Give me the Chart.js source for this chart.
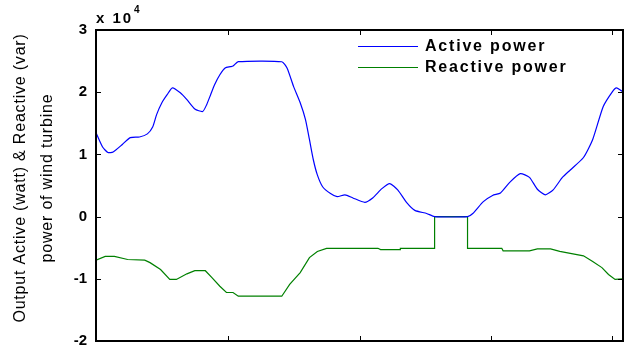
<!DOCTYPE html>
<html>
<head>
<meta charset="utf-8">
<script src="https://cdn.jsdelivr.net/npm/chart.js@4.4.1/dist/chart.umd.min.js"></script>
<style>
  html, body { margin: 0; padding: 0; background: #fff; }
  #wrap { width: 630px; height: 349px; }
</style>
</head>
<body>
<div id="wrap"><canvas id="power-chart" width="630" height="349"></canvas></div>
<script>
// values are in units of 1e4 (watt / var)
const activeTime = [0.00, 0.05, 0.09, 0.13, 0.20, 0.26, 0.33, 0.39, 0.43, 0.46, 0.50, 0.54, 0.58, 0.64, 0.69,
  0.75, 0.81, 0.84, 0.87, 0.90, 0.94, 0.98, 1.02, 1.04, 1.08, 1.41, 1.45, 1.50, 1.55, 1.59, 1.62, 1.65, 1.68,
  1.72, 1.78, 1.83, 1.89, 1.95, 2.04, 2.10, 2.17, 2.23, 2.29, 2.36, 2.42, 2.51, 2.57, 2.82, 2.86, 2.94, 3.01,
  3.07, 3.14, 3.22, 3.29, 3.35, 3.41, 3.47, 3.54, 3.60, 3.70, 3.77, 3.85, 3.92, 3.95, 3.99, 4.00];
const activePower = [1.35, 1.12, 1.03, 1.04, 1.16, 1.27, 1.28, 1.33, 1.44, 1.64, 1.83, 1.96, 2.07, 1.99, 1.88,
  1.73, 1.69, 1.80, 1.96, 2.12, 2.28, 2.39, 2.41, 2.42, 2.49, 2.49, 2.39, 2.09, 1.83, 1.56, 1.24, 0.91, 0.67,
  0.48, 0.37, 0.32, 0.35, 0.30, 0.23, 0.30, 0.45, 0.53, 0.43, 0.22, 0.10, 0.05, 0.00, 0.00, 0.05, 0.24, 0.34,
  0.38, 0.55, 0.69, 0.63, 0.44, 0.35, 0.43, 0.63, 0.75, 0.95, 1.24, 1.77, 2.01, 2.07, 2.02, 2.01];

const reactiveTime = [0.00, 0.07, 0.14, 0.24, 0.37, 0.41, 0.49, 0.56, 0.61, 0.69, 0.75, 0.83, 0.88, 0.94, 0.99,
  1.04, 1.08, 1.41, 1.47, 1.55, 1.62, 1.68, 1.75, 2.14, 2.16, 2.31, 2.31, 2.57, 2.57, 2.82, 2.82, 3.08, 3.09,
  3.29, 3.35, 3.45, 3.52, 3.62, 3.70, 3.77, 3.84, 3.89, 3.94, 4.00];
const reactivePower = [-0.70, -0.64, -0.64, -0.69, -0.70, -0.74, -0.85, -1.01, -1.01, -0.92, -0.87, -0.87, -0.98, -1.12, -1.22,
  -1.22, -1.28, -1.28, -1.09, -0.90, -0.66, -0.56, -0.51, -0.51, -0.53, -0.53, -0.51, -0.51, 0.00, 0.00, -0.51, -0.51, -0.55,
  -0.55, -0.52, -0.52, -0.56, -0.60, -0.63, -0.72, -0.82, -0.93, -1.01, -1.00];

const xTickValues = [1, 2, 3, 3.92];
const yTickValues = [3, 2, 1, 0, -1, -2];
const seriesNames = ["Active power", "Reactive power"];
const yTitleLines = ["Output Active (watt) & Reactive (var)", "power of wind turbine"];

const blue = "#0000ff";
const green = "#008000";
const fontFamily = "'Liberation Sans', Arial, sans-serif";

function toPoints(xs, ys) {
  return xs.map((x, i) => ({ x, y: ys[i] }));
}

const framePlugin = {
  id: "frame",
  afterDraw(chart) {
    const { ctx, chartArea: a, scales } = chart;
    ctx.save();
    ctx.strokeStyle = "#000";
    ctx.lineWidth = 1;
    // inward ticks
    ctx.beginPath();
    xTickValues.forEach((v) => {
      const px = Math.round(scales.x.getPixelForValue(v)) + 0.5;
      ctx.moveTo(px, a.bottom); ctx.lineTo(px, a.bottom - 5);
      ctx.moveTo(px, a.top); ctx.lineTo(px, a.top + 5);
    });
    yTickValues.forEach((v) => {
      const py = Math.round(scales.y.getPixelForValue(v)) + 0.5;
      ctx.moveTo(a.left, py); ctx.lineTo(a.left + 5, py);
      ctx.moveTo(a.right, py); ctx.lineTo(a.right - 5, py);
    });
    ctx.stroke();
    ctx.lineWidth = 2;
    ctx.strokeRect(a.left, a.top, a.right - a.left, a.bottom - a.top);

    ctx.fillStyle = "#000";
    ctx.textBaseline = "alphabetic";
    ctx.textAlign = "left";

    // exponent label
    if ("letterSpacing" in ctx) ctx.letterSpacing = "2px";
    ctx.font = "bold 15px " + fontFamily;
    ctx.fillText("x 10", 96, 23);
    if ("letterSpacing" in ctx) ctx.letterSpacing = "0px";
    ctx.font = "bold 10px " + fontFamily;
    ctx.fillText("4", 134, 13);

    // y axis title
    ctx.save();
    ctx.translate(0, 178);
    ctx.rotate(-Math.PI / 2);
    ctx.textAlign = "center";
    ctx.textBaseline = "middle";
    if ("letterSpacing" in ctx) ctx.letterSpacing = "0.8px";
    ctx.font = "16px " + fontFamily;
    ctx.fillText(yTitleLines[0], 0, 21);
    ctx.fillText(yTitleLines[1], 0, 48);
    ctx.restore();

    // legend
    const colors = [blue, green];
    const rows = [46, 67];
    ctx.font = "bold 16px " + fontFamily;
    ctx.textBaseline = "middle";
    ctx.textAlign = "left";
    if ("letterSpacing" in ctx) ctx.letterSpacing = "1.8px";
    seriesNames.forEach((name, i) => {
      ctx.strokeStyle = colors[i];
      ctx.lineWidth = 1;
      ctx.beginPath();
      ctx.moveTo(358, rows[i] + 0.5);
      ctx.lineTo(418, rows[i] + 0.5);
      ctx.stroke();
      ctx.fillStyle = "#000";
      ctx.fillText(name, 425, rows[i] + 1);
    });
    ctx.restore();
  }
};

new Chart(document.getElementById("power-chart"), {
  type: "line",
  data: {
    datasets: [
      {
        label: seriesNames[0],
        data: toPoints(activeTime, activePower),
        borderColor: blue,
        borderWidth: 1.2,
        pointRadius: 0,
        tension: 0.2
      },
      {
        label: seriesNames[1],
        data: toPoints(reactiveTime, reactivePower),
        borderColor: green,
        borderWidth: 1.2,
        pointRadius: 0,
        tension: 0
      }
    ]
  },
  options: {
    responsive: false,
    animation: false,
    layout: { autoPadding: false, padding: { top: 30, right: 7, left: 0, bottom: 0 } },
    plugins: {
      legend: { display: false },
      tooltip: { enabled: false }
    },
    scales: {
      x: {
        type: "linear",
        min: 0,
        max: 4,
        grid: { display: false, drawTicks: false },
        border: { display: false },
        ticks: { display: false },
        afterFit(scale) { scale.height = 8; }
      },
      y: {
        min: -2,
        max: 3,
        grid: { display: false, drawTicks: false },
        border: { display: false },
        ticks: {
          stepSize: 1,
          padding: 9,
          color: "#000",
          font: { family: fontFamily, size: 15, weight: "bold" }
        },
        afterFit(scale) {
          scale.width = 96;
          scale.paddingTop = 0;
          scale.paddingBottom = 0;
        }
      }
    }
  },
  plugins: [framePlugin]
});
</script>
</body>
</html>
